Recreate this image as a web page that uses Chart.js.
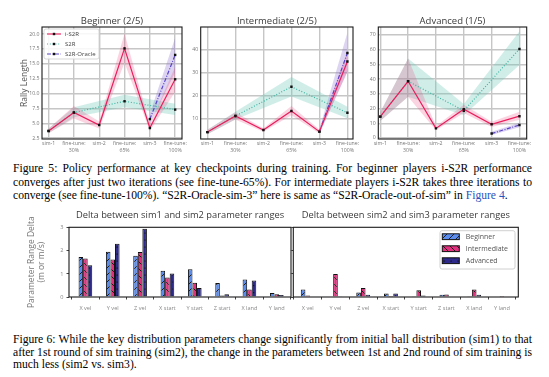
<!DOCTYPE html>
<html>
<head>
<meta charset="utf-8">
<script src="https://cdn.jsdelivr.net/npm/chart.js@4.4.1/dist/chart.umd.min.js"></script>
<style>
  body { margin: 0; background: #fff; width: 549px; height: 377px; position: relative; overflow: hidden; }
  canvas { position: absolute; }
  .cap { position: absolute; left: 13px; width: 519px; font-family: "Liberation Serif", "Times New Roman", serif;
         font-size: 11.6px; line-height: 13px; color: #000; white-space: nowrap; }
  .j { white-space: normal; text-align: justify; text-align-last: justify; word-spacing: -1.2px; }
  .lnk { color: #2a52be; }
</style>
</head>
<body>
<canvas id="beg" width="190" height="160" style="left:0;top:0"></canvas>
<canvas id="int" width="185" height="160" style="left:183px;top:0"></canvas>
<canvas id="adv" width="187" height="160" style="left:362px;top:0"></canvas>

<div class="cap j" style="top:162px">Figure 5: Policy performance at key checkpoints during training. For beginner players i-S2R performance</div>
<div class="cap j" style="top:175.5px">converges after just two iterations (see fine-tune-65%). For intermediate players i-S2R takes three iterations to</div>
<div class="cap" style="top:189px">converge (see fine-tune-100%). “S2R-Oracle-sim-3” here is same as “S2R-Oracle-out-of-sim” in <span class="lnk">Figure 4</span>.</div>

<canvas id="d12" width="300" height="125" style="left:0;top:200px"></canvas>
<canvas id="d23" width="264" height="125" style="left:285px;top:200px"></canvas>

<div class="cap j" style="top:333px">Figure 6: While the key distribution parameters change significantly from initial ball distribution (sim1) to that</div>
<div class="cap j" style="top:345.5px">after 1st round of sim training (sim2), the change in the parameters between 1st and 2nd round of sim training is</div>
<div class="cap" style="top:358px">much less (sim2 vs. sim3).</div>

<script>
const FONT = '"Open Sans", "DejaVu Sans", sans-serif';
Chart.defaults.font.family = FONT;

// ---- Figure 5 data ----
const stages = ['sim-1', ['fine-tune:', '30%'], 'sim-2', ['fine-tune:', '65%'], 'sim-3', ['fine-tune:', '100%']];

const begIS2R   = [3.7, 6.8, 4.7, 17.6, 4.2, 12.4];
const begIS2RLo = [3.3, 5.8, 4.1, 15.2, 3.7, 10.3];
const begIS2RHi = [4.1, 7.9, 5.3, 20.1, 4.8, 14.5];
const begS2R    = [3.7, 6.8, null, 8.7, null, 7.3];
const begS2RLo  = [3.3, 6.0, null, 7.7, null, 6.4];
const begS2RHi  = [4.1, 7.7, null, 9.8, null, 8.3];
const begOra    = [null, null, null, null, 5.7, 16.5];
const begOraLo  = [null, null, null, null, 4.9, 13.6];
const begOraHi  = [null, null, null, null, 6.6, 19.4];
const begTicks  = [2.5, 5, 7.5, 10, 12.5, 15, 17.5, 20];

const intIS2R   = [4.3, 11.3, 5.2, 13.5, 4.5, 35.0];
const intIS2RLo = [3.4, 9.8, 4.4, 11.6, 3.7, 30.5];
const intIS2RHi = [5.3, 12.9, 6.0, 15.6, 5.4, 39.5];
const intS2R    = [4.3, 11.3, null, 24.0, null, 12.7];
const intS2RLo  = [3.4, 9.8, null, 19.8, null, 10.3];
const intS2RHi  = [5.3, 13.2, null, 28.3, null, 15.3];
const intOra    = [null, null, null, null, 4.5, 38.7];
const intOraLo  = [null, null, null, null, 3.6, 30.5];
const intOraHi  = [null, null, null, null, 5.6, 47.5];
const intTicks  = [10, 20, 30, 40];

const advIS2R   = [14.5, 38.5, 6.5, 19.5, 9.3, 14.8];
const advIS2RLo = [11.5, 28.0, 5.2, 17.0, 7.5, 12.3];
const advIS2RHi = [17.5, 54.0, 8.0, 22.5, 11.0, 17.8];
const advS2R    = [14.5, 38.5, null, 18.5, null, 60.5];
const advS2RLo  = [11.5, 28.0, null, 15.5, null, 49.5];
const advS2RHi  = [17.5, 54.0, null, 23.0, null, 72.5];
const advOra    = [null, null, null, null, 3.0, 8.8];
const advOraLo  = [null, null, null, null, 2.0, 7.2];
const advOraHi  = [null, null, null, null, 4.2, 10.3];
const advTicks  = [0, 10, 20, 30, 40, 50, 60, 70];

// ---- Figure 6 data ----
const params = ['X vel', 'Y vel', 'Z vel', 'X start', 'Y start', 'Z start', 'X land', 'Y land'];
const d12Beg = [1.73, 1.96, 1.79, 1.14, 1.20, 0.61, 0.76, 0.17];
const d12Int = [1.67, 1.63, 1.95, 0.84, 0.62, 0.07, 0.33, 0.12];
const d12Adv = [1.38, 2.31, 2.96, 1.02, 0.39, 0.12, 0.72, 0.09];
const d23Beg = [0.32, 0.02, 0.19, 0.15, 0.03, 0.10, 0.03, 0.02];
const d23Int = [0.07, 1.00, 0.39, 0.04, 0.29, 0.11, 0.33, 0.04];
const d23Adv = [0.02, 0.01, 0.10, 0.15, 0.07, 0.02, 0.10, 0.02];
const deltaTicks = [0, 1, 2, 3];

const RED = '#ec1d5c', TEAL = '#3fb5a3', PURPLE = '#5a44c8';
const RED_BAND = 'rgba(236, 60, 120, 0.22)';
const TEAL_BAND = 'rgba(110, 200, 185, 0.32)';
const PURPLE_BAND = 'rgba(130, 100, 205, 0.28)';

function pts(a) {
  return a.map((y, i) => (y == null ? null : { x: i, y })).filter(p => p);
}

function lineSet(label, vals, color, dash) {
  return {
    label, data: pts(vals), borderColor: color, borderWidth: 1.2, borderDash: dash || [],
    pointStyle: 'rect', pointRadius: 1.7, pointBackgroundColor: '#111', pointBorderWidth: 0,
    fill: false, tension: 0
  };
}

function bandSets(lo, hi, color) {
  return [
    { label: '', data: pts(lo), borderWidth: 0, pointRadius: 0, fill: false },
    { label: '', data: pts(hi), borderWidth: 0, pointRadius: 0, fill: '-1', backgroundColor: color }
  ];
}

// plot frame (all four spines)
const frame = {
  id: 'frame',
  afterDraw(chart) {
    const a = chart.chartArea, ctx = chart.ctx;
    ctx.save();
    ctx.strokeStyle = '#1a1a1a';
    ctx.lineWidth = 1.1;
    ctx.strokeRect(a.left, a.top, a.right - a.left, a.bottom - a.top);
    ctx.restore();
  }
};

const panelTitle = {
  id: 'ptitle',
  afterDraw(chart, args, opts) {
    if (!opts.text) return;
    const a = chart.chartArea, ctx = chart.ctx;
    ctx.save();
    ctx.font = opts.size + 'px ' + FONT;
    ctx.fillStyle = '#3a3a3a';
    ctx.textAlign = 'center';
    ctx.textBaseline = 'middle';
    ctx.fillText(opts.text, (a.left + a.right) / 2, a.top - opts.gap);
    ctx.restore();
  }
};

// legend inside the Beginner panel
const lineLegend = {
  id: 'lineLegend',
  afterDraw(chart, args, opts) {
    if (!opts.show) return;
    const a = chart.chartArea, ctx = chart.ctx;
    const x0 = a.left + 2, y0 = a.top + 2;
    ctx.save();
    ctx.fillStyle = 'rgba(255,255,255,0.85)';
    ctx.strokeStyle = '#cfcfcf';
    ctx.lineWidth = 0.8;
    ctx.beginPath();
    ctx.roundRect(x0, y0, 55, 30, 2);
    ctx.fill();
    ctx.stroke();
    ctx.font = '6px ' + FONT;
    ctx.textBaseline = 'middle';
    [0, 1, 2].forEach((di, k) => {
      const ds = chart.data.datasets[di];
      const y = y0 + 5 + k * 10;
      ctx.strokeStyle = ds.borderColor;
      ctx.lineWidth = 1.1;
      ctx.setLineDash(ds.borderDash);
      ctx.beginPath();
      ctx.moveTo(x0 + 3, y);
      ctx.lineTo(x0 + 17, y);
      ctx.stroke();
      ctx.setLineDash([]);
      ctx.fillStyle = '#111';
      ctx.fillRect(x0 + 8.8, y - 1.2, 2.4, 2.4);
      ctx.fillStyle = '#444';
      ctx.fillText(ds.label, x0 + 21, y + 0.3);
    });
    ctx.restore();
  }
};

function linePanel(id, o) {
  const datasets = [
    lineSet('i-S2R', o.is2r, RED),
    lineSet('S2R', o.s2r, TEAL, [1, 1.8]),
    lineSet('S2R-Oracle', o.ora, PURPLE, [4, 1.5, 1, 1.5]),
    ...bandSets(o.is2rLo, o.is2rHi, RED_BAND),
    ...bandSets(o.s2rLo, o.s2rHi, TEAL_BAND),
    ...bandSets(o.oraLo, o.oraHi, PURPLE_BAND)
  ];
  const canvas = document.getElementById(id);
  return new Chart(canvas, {
    type: 'line',
    data: { datasets },
    options: {
      responsive: false, animation: false, devicePixelRatio: 1, events: [],
      layout: { padding: { left: 0, top: 27, right: o.padRight, bottom: 0 } },
      plugins: {
        legend: { display: false }, tooltip: { enabled: false },
        filler: { drawTime: 'beforeDatasetsDraw' },
        ptitle: { text: o.title, size: 9.5, gap: 5.5 },
        lineLegend: { show: !!o.legend }
      },
      scales: {
        x: {
          type: 'linear', min: o.xMin, max: o.xMax,
          afterBuildTicks: s => { s.ticks = stages.map((_, i) => ({ value: i })); },
          afterFit: s => { s.height = 21; },
          grid: { color: '#c6c6c6', lineWidth: 1.4, drawTicks: false },
          border: { display: false },
          ticks: {
            autoSkip: false, maxRotation: 0, padding: 1.5, color: '#777',
            font: { size: 5.2, lineHeight: 1.25 },
            callback: v => stages[v]
          }
        },
        y: {
          min: o.yMin, max: o.yMax,
          afterBuildTicks: s => { s.ticks = o.yTicks.map(v => ({ value: v })); },
          afterFit: s => { s.width = o.yWidth; },
          grid: { color: '#c6c6c6', lineWidth: 1.4, drawTicks: false },
          border: { display: false },
          ticks: { padding: 2.5, color: '#777', font: { size: 5.2 }, callback: o.yFmt },
          title: {
            display: !!o.yTitle, text: o.yTitle, color: '#555',
            font: { size: 8.5, lineHeight: 1.2 }, padding: { top: 19, bottom: 0 }
          }
        }
      }
    },
    plugins: [frame, panelTitle, lineLegend]
  });
}

linePanel('beg', {
  title: 'Beginner (2/5)', legend: true, yTitle: 'Rally Length',
  is2r: begIS2R, is2rLo: begIS2RLo, is2rHi: begIS2RHi,
  s2r: begS2R, s2rLo: begS2RLo, s2rHi: begS2RHi,
  ora: begOra, oraLo: begOraLo, oraHi: begOraHi,
  yTicks: begTicks, yMin: 2.35, yMax: 21.2, yFmt: v => v.toFixed(1),
  xMin: -0.26, xMax: 5.27, yWidth: 42, padRight: 8
});

linePanel('int', {
  title: 'Intermediate (2/5)',
  is2r: intIS2R, is2rLo: intIS2RLo, is2rHi: intIS2RHi,
  s2r: intS2R, s2rLo: intS2RLo, s2rHi: intS2RHi,
  ora: intOra, oraLo: intOraLo, oraHi: intOraHi,
  yTicks: intTicks, yMin: 1.3, yMax: 50, yFmt: v => String(v),
  xMin: -0.24, xMax: 5.2, yWidth: 17.7, padRight: 15
});

linePanel('adv', {
  title: 'Advanced (1/5)',
  is2r: advIS2R, is2rLo: advIS2RLo, is2rHi: advIS2RHi,
  s2r: advS2R, s2rLo: advS2RLo, s2rHi: advS2RHi,
  ora: advOra, oraLo: advOraLo, oraHi: advOraHi,
  yTicks: advTicks, yMin: -0.7, yMax: 75.4, yFmt: v => String(v),
  xMin: -0.07, xMax: 5.26, yWidth: 16.3, padRight: 22.3
});

// ---- Figure 6 ----
function hatch(color, kind) {
  const n = 7;
  const c = document.createElement('canvas');
  c.width = n; c.height = n;
  const g = c.getContext('2d');
  g.fillStyle = color;
  g.fillRect(0, 0, n, n);
  g.strokeStyle = '#111';
  g.fillStyle = '#111';
  g.lineWidth = 0.9;
  if (kind === '/') {
    g.beginPath();
    g.moveTo(-1, n + 1); g.lineTo(n + 1, -1);
    g.stroke();
  } else if (kind === '\\') {
    g.beginPath();
    g.moveTo(-1, -1); g.lineTo(n + 1, n + 1);
    g.stroke();
  } else {
    g.fillRect(1, 1, 1.2, 1.2);
    g.fillRect(4.5, 4.5, 1.2, 1.2);
  }
  return g.createPattern(c, 'repeat');
}

const BLUE = '#5b8def', PINK = '#e0307e', NAVY = '#2e2a8c';

const barLegend = {
  id: 'barLegend',
  afterDraw(chart, args, opts) {
    if (!opts.show) return;
    const a = chart.chartArea, ctx = chart.ctx;
    const x0 = a.right - 78.3, y0 = a.top + 3.4;
    ctx.save();
    ctx.fillStyle = 'rgba(255,255,255,0.9)';
    ctx.strokeStyle = '#d0d0d0';
    ctx.lineWidth = 1;
    ctx.beginPath();
    ctx.roundRect(x0, y0, 75, 38.3, 2);
    ctx.fill();
    ctx.stroke();
    ctx.font = '7px ' + FONT;
    ctx.textBaseline = 'middle';
    chart.data.datasets.forEach((ds, k) => {
      const y = y0 + 6 + k * 12;
      ctx.fillStyle = ds.backgroundColor;
      ctx.fillRect(x0 + 2.3, y - 2.9, 17, 5.8);
      ctx.strokeStyle = '#111';
      ctx.lineWidth = 1;
      ctx.strokeRect(x0 + 2.3, y - 2.9, 17, 5.8);
      ctx.fillStyle = '#555';
      ctx.fillText(ds.label, x0 + 25.7, y + 0.3);
    });
    ctx.restore();
  }
};

function barSet(label, vals, color, kind) {
  return {
    label, data: vals.map((y, i) => ({ x: i, y })),
    backgroundColor: hatch(color, kind), borderColor: '#111', borderWidth: 1,
    barPercentage: 1, categoryPercentage: 0.5
  };
}

function deltaPanel(id, o) {
  const canvas = document.getElementById(id);
  return new Chart(canvas, {
    type: 'bar',
    data: {
      datasets: [
        barSet('Beginner', o.beg, BLUE, '/'),
        barSet('Intermediate', o.int, PINK, '\\'),
        barSet('Advanced', o.adv, NAVY, '.')
      ]
    },
    options: {
      responsive: false, animation: false, devicePixelRatio: 1, events: [],
      layout: { padding: { left: 0, top: 27.3, right: o.padRight, bottom: 0 } },
      plugins: {
        legend: { display: false }, tooltip: { enabled: false },
        ptitle: { text: o.title, size: 9.3, gap: 11.8 },
        barLegend: { show: !!o.legend }
      },
      scales: {
        x: {
          type: 'linear', min: o.xMin, max: o.xMax, offset: false,
          afterBuildTicks: s => { s.ticks = params.map((_, i) => ({ value: i })); },
          afterFit: s => { s.height = 28; },
          grid: { drawOnChartArea: false, drawTicks: true, tickLength: 2.5, color: '#444' },
          border: { display: false },
          ticks: { autoSkip: false, maxRotation: 0, padding: 6, color: '#888', font: { size: 5.6 }, callback: v => params[v] }
        },
        y: {
          min: 0, max: 3.02,
          afterBuildTicks: s => { s.ticks = deltaTicks.map(v => ({ value: v })); },
          afterFit: s => { s.width = o.yWidth; },
          grid: { drawOnChartArea: false, drawTicks: true, tickLength: 2.5, color: '#444' },
          border: { display: false },
          ticks: { padding: 3, color: '#888', font: { size: 5.6 }, callback: v => (o.yLabels ? String(v) : '') },
          title: {
            display: !!o.yTitle, text: o.yTitle, color: '#777',
            font: { size: 8.5, lineHeight: 1.18 }, padding: { top: 26.7, bottom: 0 }
          }
        }
      }
    },
    plugins: [frame, panelTitle, barLegend]
  });
}

deltaPanel('d12', {
  title: 'Delta between sim1 and sim2 parameter ranges',
  beg: d12Beg, int: d12Int, adv: d12Adv,
  yTitle: ['Parameter Range Delta', '(m or m/s)'], yLabels: true,
  xMin: -0.6, xMax: 7.52, yWidth: 69, padRight: 9
});

deltaPanel('d23', {
  title: 'Delta between sim2 and sim3 parameter ranges', legend: true,
  beg: d23Beg, int: d23Int, adv: d23Adv,
  yLabels: false,
  xMin: -0.52, xMax: 7.59, yWidth: 8.3, padRight: 30.7
});
</script>
</body>
</html>
